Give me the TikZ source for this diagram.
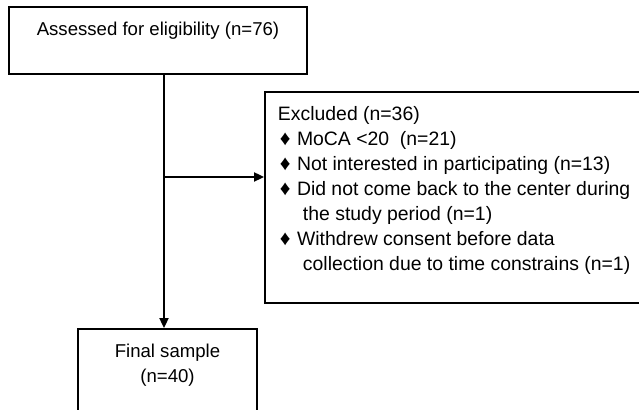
\documentclass[tikz,border=0pt]{standalone}
\usepackage{fontspec}
\setmainfont{Liberation Sans}
\usetikzlibrary{arrows.meta}
\newcommand{\bul}{\hspace*{1pt}\makebox[8.5pt][l]{\fontsize{10.5}{12}\selectfont ♦}}
\newcommand{\cont}{\hspace*{12.5pt}}

\begin{document}
\begin{tikzpicture}[x=1pt, y=1pt, >={Triangle[length=5pt, width=4.5pt]},
    font=\fontsize{9.3}{12.5}\selectfont,
    box/.style={draw, line width=0.9pt, inner ysep=0pt, inner xsep=0pt, text height=14.5pt},
    link/.style={line width=0.9pt, ->}]
  \useasboundingbox (0,0) rectangle (319.5,-205);
  \clip (0,0) rectangle (319.5,-205);

  % Boxes
  \node[box, minimum width=149pt, text depth=19pt] (assessed) at (79,-20.25)
    {Assessed for eligibility (n=76)};

  \node[box, minimum width=188pt, text depth=91pt, inner xsep=6.5pt,
        font=\fontsize{9.7}{12.5}\selectfont] (excluded) at (226.5,-98.75)
    {\makebox[175pt][l]{\vtop{%
      \hbox{Excluded (n=36)}
      \hbox{\bul MoCA <20\ \ (n=21)}
      \hbox{\bul Not interested in participating (n=13)}
      \hbox{\bul Did not come back to the center during}
      \hbox{\cont the study period (n=1)}
      \hbox{\bul Withdrew consent before data}
      \hbox{\cont collection due to time constrains (n=1)}}}};

  \node[box, minimum width=89.5pt, text depth=30.5pt] (final) at (83.75,-187)
    {\begin{tabular}[t]{@{}c@{}}Final sample\\(n=40)\end{tabular}};

  % Flow
  \coordinate (trunk) at ([xshift=3pt]assessed.south);
  \coordinate (split) at (trunk |- 0,-88.5);
  \draw[link] (trunk) -- (trunk |- final.north);
  \draw[link] (split) -- (split -| excluded.west);
\end{tikzpicture}
\end{document}
